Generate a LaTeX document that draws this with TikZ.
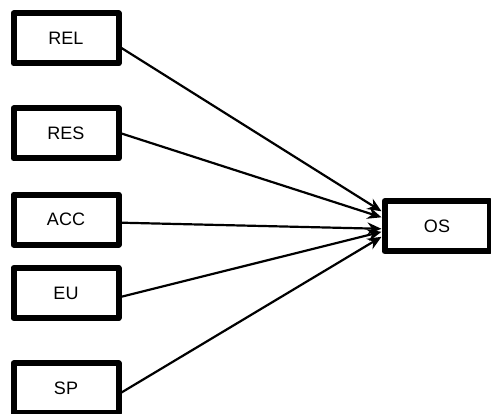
\documentclass[tikz,border=0pt]{standalone}
\usepackage{fontspec}
\setmainfont{Liberation Sans}
\usetikzlibrary{arrows.meta}
\begin{document}
\begin{tikzpicture}[x=1pt,y=-1pt,line join=round,>={Stealth[length=14pt,width=12pt]},
	box/.style={draw,line width=6pt,minimum width=105pt,minimum height=50pt,inner sep=0pt,font=\fontsize{18}{21}\selectfont},
	link/.style={->,line width=2.2pt}]
	\useasboundingbox (0,0) rectangle (491,414);
	\node[box] (rel) at (66,38.5) {REL};
	\node[box] (res) at (66,133.5) {RES};
	\node[box] (acc) at (66,219.7) {ACC};
	\node[box] (eu) at (66,293) {EU};
	\node[box] (sp) at (66,388.5) {SP};
	\node[box] (os) at (437,226.3) {OS};
	\draw[link] ([yshift=-9.5pt]rel.east) -- ([yshift=15pt]os.west);
	\draw[link] (res.east) -- ([yshift=9pt]os.west);
	\draw[link] ([yshift=-3pt]acc.east) -- ([yshift=-2.5pt]os.west);
	\draw[link] ([yshift=-3.7pt]eu.east) -- ([yshift=-5.5pt]os.west);
	\draw[link] ([yshift=-4pt]sp.east) -- ([yshift=-10.5pt]os.west);
\end{tikzpicture}
\end{document}
